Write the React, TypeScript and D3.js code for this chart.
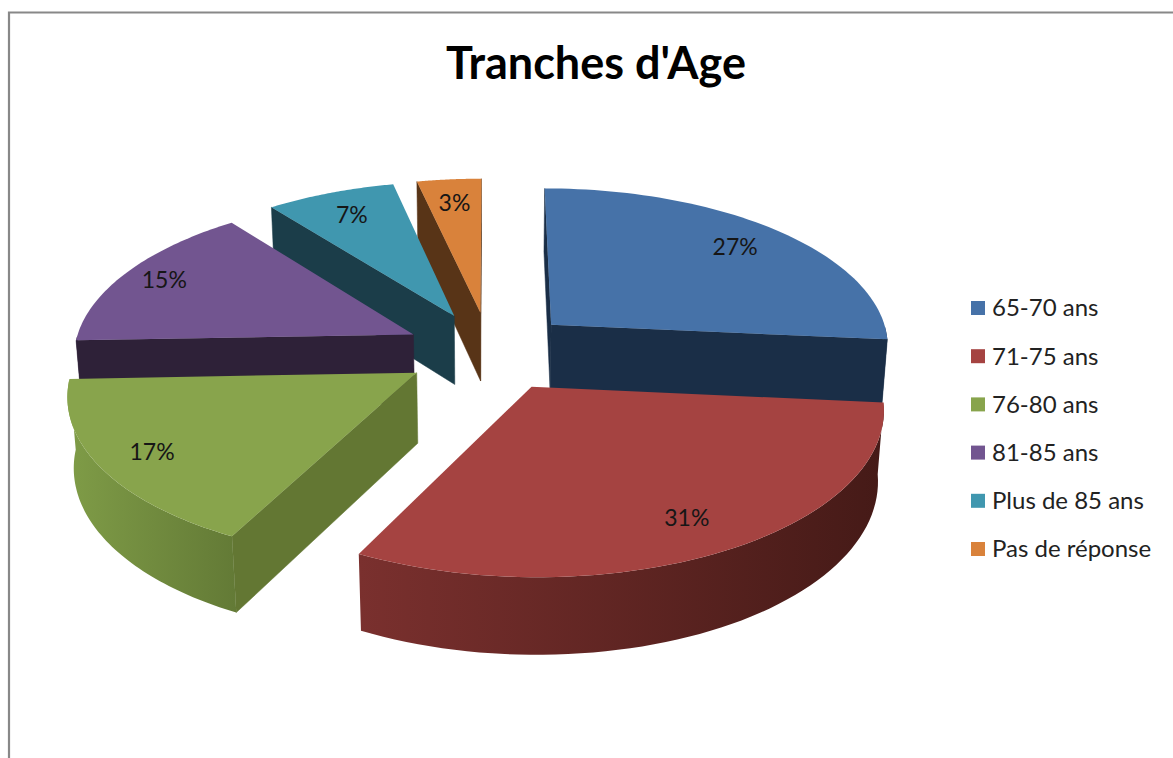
import { useEffect, useRef } from "react";
import * as d3 from "d3";

const categories = ["65-70 ans", "71-75 ans", "76-80 ans", "81-85 ans", "Plus de 85 ans", "Pas de réponse"];
// the printed labels are these rounded
const values = [26.5, 31, 16.9, 15.1, 7.01, 3.49];
const topColors = ["#4672a8", "#a54341", "#88a44c", "#725590", "#4097af", "#d9823b"];
const wallColors = ["#1a2e47", "#7a302e", "#637733", "#2e2138", "#1b3d49", "#583417"];
const rimLeftColors = ["#1a2e47", "#7a302e", "#7f9c47", "#2e2138", "#1b3d49", "#583417"];
const rimRightColors = ["#1a2e47", "#451a17", "#637a36", "#2e2138", "#1b3d49", "#583417"];

// back to front
const drawOrder = [0, 5, 4, 3, 2, 1];
// how far along its radius each percent label sits
const labelReach = [0.81, 0.82, 0.845, 0.865, 0.81, 0.81];

const width = 1173;
const height = 758;
const cx = 489.5;
const cy = 351;
const radius = 340;
const explode = 85;
const depth = 80;
const tilt = (27.8 * Math.PI) / 180;
const camera = 2520;
const firstAngle = 0;
const labelFont = "Lato, 'Open Sans', sans-serif";

type Pt = [number, number];

// x right, y toward the viewer, z up, all in the plane of the pie
const project = (x: number, y: number, z: number): Pt => {
  const toViewer = y * Math.cos(tilt) + z * Math.sin(tilt);
  const down = y * Math.sin(tilt) - z * Math.cos(tilt);
  const f = camera / (camera - toViewer);
  return [cx + x * f, cy + down * f];
};

const App = () => {
  const svgRef = useRef<SVGSVGElement | null>(null);

  useEffect(() => {
    const svg = d3.select(svgRef.current);
    svg.selectAll("*").remove();
    svg.attr("width", width).attr("height", height);

    svg.append("path")
      .attr("d", `M9,${height}V12.5H${width}`)
      .attr("fill", "none")
      .attr("stroke", "#888888")
      .attr("stroke-width", 2.2);

    svg.append("text")
      .attr("x", 596)
      .attr("y", 79)
      .attr("text-anchor", "middle")
      .style("font-family", labelFont)
      .style("font-size", "45px")
      .style("font-weight", "bold")
      .attr("fill", "#000")
      .text("Tranches d'Age");

    const arcs = d3
      .pie<number>()
      .sort(null)
      .startAngle(firstAngle)
      .endAngle(firstAngle + 2 * Math.PI)(values);

    const defs = svg.append("defs");
    const line = d3.line<Pt>();
    const closed = (pts: Pt[]) => line(pts) + "Z";

    drawOrder.forEach((i) => {
      const a = arcs[i];
      const mid = (a.startAngle + a.endAngle) / 2;
      const ox = explode * Math.sin(mid);
      const oy = -explode * Math.cos(mid);
      const at = (t: number, r: number, z: number) =>
        project(ox + r * Math.sin(t), oy - r * Math.cos(t), z);

      const steps = d3.range(0, 61).map((k) => a.startAngle + ((a.endAngle - a.startAngle) * k) / 60);
      const g = svg.append("g");

      const wall = (t: number, flip: boolean) => {
        const pts = [at(t, 0, 0), at(t, radius, 0), at(t, radius, -depth), at(t, 0, -depth)];
        const area = d3.polygonArea(pts);
        if (flip ? area < 0 : area > 0) {
          g.append("path").attr("d", closed(pts)).attr("fill", wallColors[i]).attr("stroke", wallColors[i]).attr("stroke-width", 0.5);
        }
      };
      wall(a.startAngle, false);
      wall(a.endAngle, true);

      const front = steps.filter((t) => Math.cos(t) < 0);
      if (front.length > 1) {
        const upper = front.map((t) => at(t, radius, 0));
        const lower = front.map((t) => at(t, radius, -depth)).reverse();
        const xs = d3.extent(upper.concat(lower), (p) => p[0]) as [number, number];
        const id = `rim-${i}`;
        const grad = defs.append("linearGradient")
          .attr("id", id)
          .attr("gradientUnits", "userSpaceOnUse")
          .attr("x1", xs[0]).attr("x2", xs[1]).attr("y1", 0).attr("y2", 0);
        grad.append("stop").attr("offset", 0).attr("stop-color", rimLeftColors[i]);
        grad.append("stop").attr("offset", 1).attr("stop-color", rimRightColors[i]);
        g.append("path").attr("d", closed(upper.concat(lower))).attr("fill", `url(#${id})`);
      }

      const top = [at(0, 0, 0), ...steps.map((t) => at(t, radius, 0))];
      g.append("path").attr("d", closed(top)).attr("fill", topColors[i]);
    });

    arcs.forEach((a, i) => {
      const mid = (a.startAngle + a.endAngle) / 2;
      const reach = explode + radius * labelReach[i];
      const p = project(reach * Math.sin(mid), -reach * Math.cos(mid), 0);
      svg.append("text")
        .attr("x", p[0])
        .attr("y", p[1])
        .attr("dy", "0.35em")
        .attr("text-anchor", "middle")
        .style("font-family", labelFont)
        .style("font-size", "23px")
        .attr("fill", "#161616")
        .text(`${Math.round(a.data)}%`);
    });

    const rowY = d3.scalePoint<string>().domain(categories).range([308, 549]);
    const legend = svg.append("g");
    categories.forEach((c, i) => {
      const y = rowY(c) as number;
      legend.append("rect")
        .attr("x", 971)
        .attr("y", y - 7)
        .attr("width", 14)
        .attr("height", 14)
        .attr("fill", topColors[i]);
      legend.append("text")
        .attr("x", 992)
        .attr("y", y)
        .attr("dy", "0.35em")
        .style("font-family", labelFont)
        .style("font-size", "24px")
        .attr("fill", "#222")
        .text(c);
    });
  }, []);

  return <svg ref={svgRef} style={{ position: "absolute", left: 0, top: 0, background: "#fff" }} />;
};

export default App;
